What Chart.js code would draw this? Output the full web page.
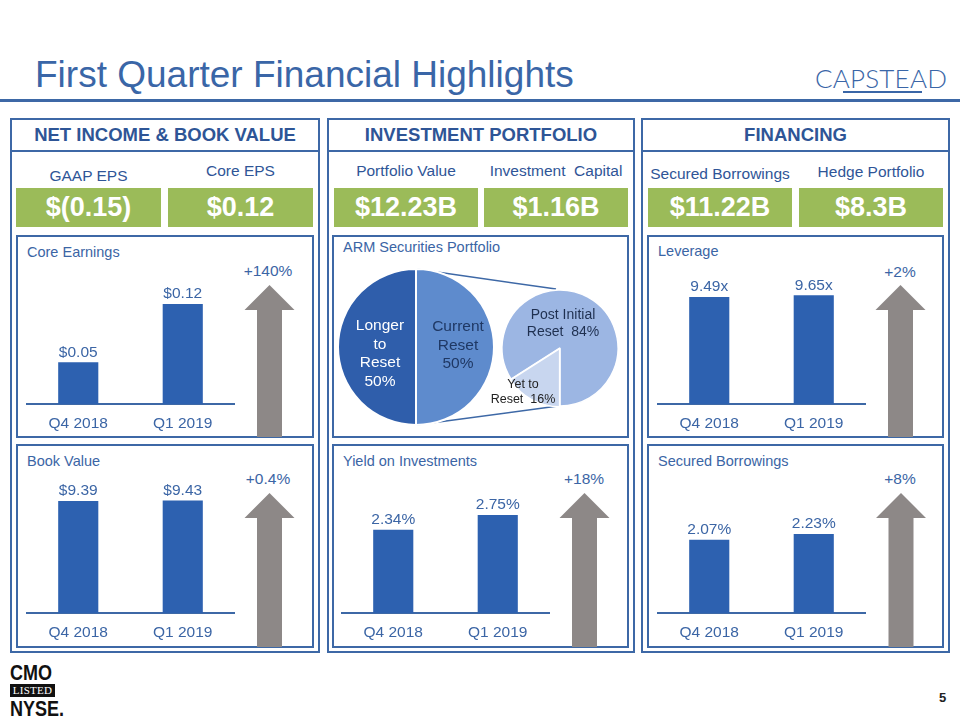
<!DOCTYPE html>
<html>
<head>
<meta charset="utf-8">
<script src="https://cdn.jsdelivr.net/npm/chart.js@4.4.0/dist/chart.umd.min.js"></script>
<style>
  body { margin: 0; background: #fff; }
  #slide { position: relative; width: 960px; height: 720px; overflow: hidden;
    font-family: 'Liberation Sans', Arial, sans-serif; color: #3B65A5; }
  .t { position: absolute; white-space: nowrap; }
  .box { position: absolute; box-sizing: border-box; }
  .col { border: 2.5px solid #3D68A6; top: 118px; height: 535px; }
  .panel { border: 2px solid #3D68A6; }
  .head { font-weight: bold; font-size: 18.5px; color: #2E5596; letter-spacing: 0;
    text-align: center; line-height: 20px; top: 125px; }
  .sub { font-size: 15.5px; color: #2F5597; text-align: center; line-height: 20px; }
  .green { background: #9BBB59; color: #fff; font-weight: bold; font-size: 27px;
    text-align: center; line-height: 39px; top: 188px; height: 39px; }
  .ptitle { font-size: 14.5px; line-height: 20px; }
  .chg { font-size: 15.5px; line-height: 20px; text-align: center; width: 80px; }
  canvas { position: absolute; }
</style>
</head>
<body>
<div id="slide">
  <div class="t" style="left:35px;top:55px;font-size:37px;line-height:40px;color:#3A66A7;">First Quarter Financial Highlights</div>
  <div class="t" style="left:815px;top:58px;font-family:Lato,'Open Sans',sans-serif;font-weight:300;font-size:26px;line-height:40px;letter-spacing:0.2px;color:#3A66A7;">CAPSTEAD</div>
  <div class="box" style="left:843px;top:91px;width:79px;height:2px;background:#3A66A7;"></div>
  <div class="box" style="left:0;top:99px;width:960px;height:3px;background:#3D68A6;"></div>

  <!-- columns -->
  <div class="box col" style="left:10px;width:310px;"></div>
  <div class="box col" style="left:327px;width:308px;"></div>
  <div class="box col" style="left:641px;width:309px;"></div>
  <div class="box" style="left:10px;top:150px;width:310px;height:2px;background:#3D68A6;"></div>
  <div class="box" style="left:327px;top:150px;width:308px;height:2px;background:#3D68A6;"></div>
  <div class="box" style="left:641px;top:150px;width:309px;height:2px;background:#3D68A6;"></div>

  <div class="t head" style="left:10px;width:310px;">NET INCOME &amp; BOOK VALUE</div>
  <div class="t head" style="left:327px;width:308px;">INVESTMENT PORTFOLIO</div>
  <div class="t head" style="left:641px;width:309px;">FINANCING</div>

  <div class="t sub" style="left:16px;width:145px;top:166px;">GAAP EPS</div>
  <div class="t sub" style="left:168px;width:145px;top:161px;">Core EPS</div>
  <div class="t sub" style="left:334px;width:144px;top:161px;">Portfolio Value</div>
  <div class="t sub" style="left:484px;width:144px;top:161px;">Investment&nbsp; Capital</div>
  <div class="t sub" style="left:648px;width:144px;top:164px;">Secured Borrowings</div>
  <div class="t sub" style="left:799px;width:144px;top:162px;">Hedge Portfolio</div>

  <div class="t green" style="left:16px;width:145px;">$(0.15)</div>
  <div class="t green" style="left:168px;width:145px;">$0.12</div>
  <div class="t green" style="left:334px;width:144px;">$12.23B</div>
  <div class="t green" style="left:484px;width:144px;">$1.16B</div>
  <div class="t green" style="left:648px;width:144px;">$11.22B</div>
  <div class="t green" style="left:799px;width:144px;">$8.3B</div>

  <!-- chart panels -->
  <div class="box panel" style="left:16px;top:235px;width:298px;height:203px;"></div>
  <div class="box panel" style="left:16px;top:444px;width:298px;height:204px;"></div>
  <div class="box panel" style="left:332px;top:235px;width:297px;height:203px;"></div>
  <div class="box panel" style="left:332px;top:444px;width:297px;height:204px;"></div>
  <div class="box panel" style="left:647px;top:235px;width:297px;height:203px;"></div>
  <div class="box panel" style="left:647px;top:444px;width:297px;height:204px;"></div>

  <div class="t ptitle" style="left:27px;top:242px;">Core Earnings</div>
  <div class="t ptitle" style="left:27px;top:451px;">Book Value</div>
  <div class="t ptitle" style="left:343px;top:237px;">ARM Securities Portfolio</div>
  <div class="t ptitle" style="left:343px;top:451px;">Yield on Investments</div>
  <div class="t ptitle" style="left:658px;top:241px;">Leverage</div>
  <div class="t ptitle" style="left:658px;top:451px;">Secured Borrowings</div>

  <svg class="box" style="left:0;top:0;" width="960" height="720">
    <g fill="#8D8887">
      <polygon points="244.5,310 269.5,285 294.5,310 282,310 282,437 257,437 257,310"/>
      <polygon points="244.5,518 269.5,493 294.5,518 282,518 282,647 257,647 257,518"/>
      <polygon points="559.5,518 584.5,493 609.5,518 597,518 597,647 572,647 572,518"/>
      <polygon points="875.5,310 900.5,285 925.5,310 913,310 913,437 888,437 888,310"/>
      <polygon points="876,518 901,493 926,518 913.5,518 913.5,647 888.5,647 888.5,518"/>
    </g>
    <g stroke="#3D68A6" stroke-width="1.5">
      <line x1="416" y1="269" x2="556" y2="289"/>
      <line x1="416" y1="425" x2="558" y2="406"/>
    </g>
  </svg>

  <div class="t chg" style="left:228px;top:261px;" id="chg0"></div>
  <div class="t chg" style="left:228px;top:469px;" id="chg1"></div>
  <div class="t chg" style="left:544px;top:469px;" id="chg2"></div>
  <div class="t chg" style="left:860px;top:262px;" id="chg3"></div>
  <div class="t chg" style="left:860px;top:469px;" id="chg4"></div>

  <canvas id="coreChart" width="209" height="170" style="left:26px;top:264px;"></canvas>
  <canvas id="bookChart" width="209" height="170" style="left:26px;top:473px;"></canvas>
  <canvas id="yieldChart" width="209" height="170" style="left:341px;top:473px;"></canvas>
  <canvas id="leverageChart" width="209" height="170" style="left:657px;top:264px;"></canvas>
  <canvas id="borrowChart" width="209" height="170" style="left:657px;top:473px;"></canvas>
  <canvas id="armPie" width="170" height="170" style="left:331px;top:262px;"></canvas>
  <canvas id="resetPie" width="140" height="140" style="left:490px;top:278px;"></canvas>

  <div class="t" style="left:330px;width:100px;top:316px;font-size:15.5px;line-height:18.5px;color:#fff;text-align:center;">Longer<br>to<br>Reset<br>50%</div>
  <div class="t" style="left:418px;width:80px;top:317px;font-size:15.5px;line-height:18.5px;color:#1F3864;text-align:center;">Current<br>Reset<br>50%</div>
  <div class="t" style="left:513px;width:100px;top:306px;font-size:14px;line-height:17px;color:#1F3050;text-align:center;">Post Initial<br>Reset&nbsp; 84%</div>
  <div class="t" style="left:483px;width:80px;top:377px;font-size:12.5px;line-height:15px;color:#222;text-align:center;">Yet to<br>Reset&nbsp; 16%</div>

  <div class="t" style="left:10px;top:660px;font-weight:bold;font-size:18px;line-height:22px;color:#111;transform:scaleY(1.2);transform-origin:left top;">CMO</div>
  <div class="box" style="left:10px;top:684px;width:45px;height:13px;background:#111;color:#fff;font-family:'Liberation Serif',serif;font-size:11px;line-height:13px;text-align:center;letter-spacing:0.3px;">LISTED</div>
  <div class="t" style="left:10px;top:697px;font-weight:bold;font-size:18px;line-height:20px;color:#111;transform:scaleY(1.2);transform-origin:left top;">NYSE.</div>
  <div class="t" style="left:939px;top:689px;font-weight:bold;font-size:13px;line-height:18px;color:#222;">5</div>
</div>

<script>
const quarters = ['Q4 2018', 'Q1 2019'];
const coreEarnings = [0.05, 0.12];
const bookValue = [9.39, 9.43];
const yieldOnInvestments = [2.34, 2.75];
const leverage = [9.49, 9.65];
const borrowingCost = [2.07, 2.23];
const changeLabels = ['+140%', '+0.4%', '+18%', '+2%', '+8%'];

const armLabels = ['Longer to Reset', 'Current Reset'];
const armShares = [50, 50];
const resetLabels = ['Post Initial Reset', 'Yet to Reset'];
const resetShares = [84, 16];

const BAR = '#2D61B0';
const TXT = '#3B65A5';
const LINE = '#3D68A6';
const FONT = "'Liberation Sans', Arial, sans-serif";

Chart.defaults.font.family = FONT;
Chart.defaults.animation = false;

changeLabels.forEach((s, i) => { document.getElementById('chg' + i).textContent = s; });

// label above each bar
const valueLabels = fmt => ({
  id: 'valueLabels',
  afterDatasetsDraw(chart) {
    const ctx = chart.ctx;
    const ds = chart.data.datasets[0];
    ctx.save();
    ctx.fillStyle = TXT;
    ctx.font = '15.5px ' + FONT;
    ctx.textAlign = 'center';
    ctx.textBaseline = 'middle';
    chart.getDatasetMeta(0).data.forEach((bar, i) => {
      ctx.fillText(fmt(ds.data[i]), bar.x, bar.y - 10);
    });
    ctx.restore();
  }
});

function barChart(id, values, yMax, fmt) {
  new Chart(document.getElementById(id), {
    type: 'bar',
    data: {
      labels: quarters,
      datasets: [{ data: values, backgroundColor: BAR, barPercentage: 0.8, categoryPercentage: 0.48 }]
    },
    options: {
      responsive: false,
      events: [],
      plugins: { legend: { display: false }, tooltip: { enabled: false } },
      scales: {
        x: {
          grid: { display: false, drawTicks: false },
          border: { color: LINE, width: 2 },
          ticks: { color: TXT, font: { size: 15.5 }, padding: 10 },
          afterFit: s => { s.height = 30; }
        },
        y: { display: false, min: 0, max: yMax }
      }
    },
    plugins: [valueLabels(fmt)]
  });
}

barChart('coreChart', coreEarnings, 0.168, v => '$' + v.toFixed(2));
barChart('bookChart', bookValue, 11.74, v => '$' + v.toFixed(2));
barChart('yieldChart', yieldOnInvestments, 3.93, v => v.toFixed(2) + '%');
barChart('leverageChart', leverage, 12.42, v => v.toFixed(2) + 'x');
barChart('borrowChart', borrowingCost, 3.95, v => v.toFixed(2) + '%');

new Chart(document.getElementById('armPie'), {
  type: 'pie',
  data: {
    labels: armLabels,
    datasets: [{ data: armShares, backgroundColor: ['#2F5EAB', '#5E8BCD'], borderColor: '#fff', borderWidth: 2, radius: 78 }]
  },
  options: {
    responsive: false, events: [], rotation: 180,
    plugins: { legend: { display: false }, tooltip: { enabled: false } }
  }
});

new Chart(document.getElementById('resetPie'), {
  type: 'pie',
  data: {
    labels: resetLabels,
    datasets: [{ data: resetShares, backgroundColor: ['#9CB6E3', '#C8D6EF'], borderColor: '#fff', borderWidth: 1.5, offset: [0, 3], radius: 58 }]
  },
  options: {
    responsive: false, events: [],
    rotation: 180 + resetShares[1] / 100 * 360,
    plugins: { legend: { display: false }, tooltip: { enabled: false } }
  }
});
</script>
</body>
</html>
